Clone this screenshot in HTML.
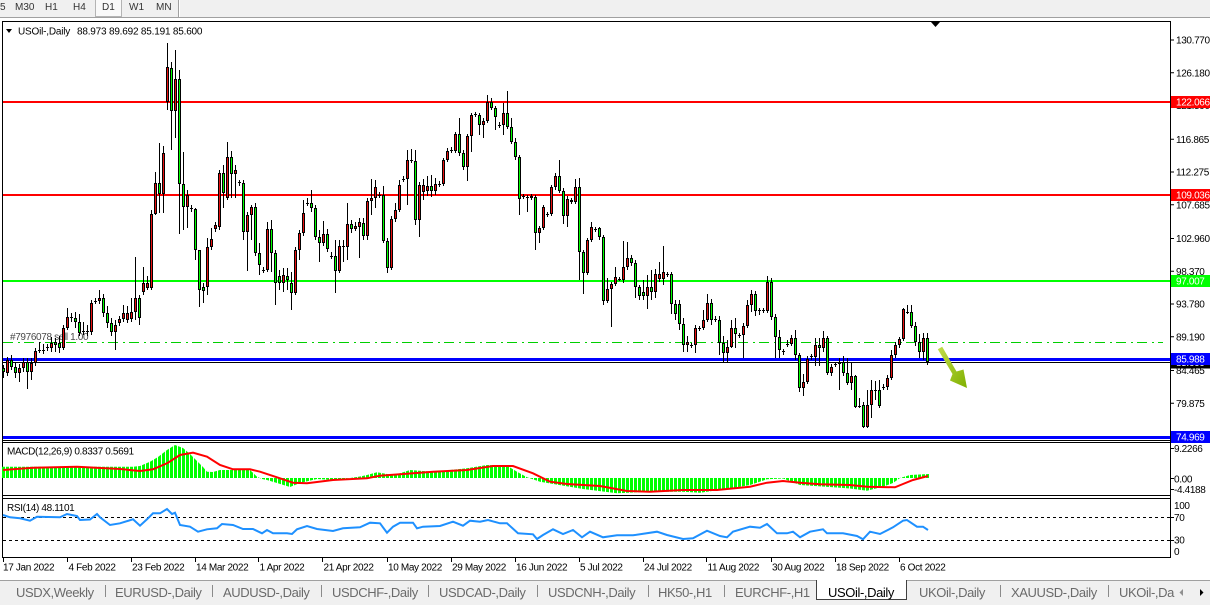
<!DOCTYPE html>
<html><head><meta charset="utf-8"><style>
html,body{margin:0;padding:0;background:#f0f0f0;}
svg{display:block;}
.t{font-family:"Liberation Sans",sans-serif;font-size:10px;letter-spacing:-0.35px;fill:#000;}
.tb{font-family:"Liberation Sans",sans-serif;font-size:10px;fill:#333;}
.tab{font-family:"Liberation Sans",sans-serif;font-size:13px;letter-spacing:-0.4px;fill:#6a6a6a;}
.w{fill:#fff;}
</style></head><body>
<svg width="1210" height="605" viewBox="0 0 1210 605" xmlns="http://www.w3.org/2000/svg">
<defs>
<pattern id="hb" x="2" y="0" width="4" height="605" patternUnits="userSpaceOnUse"><rect width="3" height="605" fill="#00ff00"/></pattern>
<linearGradient id="ag" x1="0" y1="0" x2="1" y2="1"><stop offset="0" stop-color="#c2dc4a"/><stop offset="1" stop-color="#7fb000"/></linearGradient>
</defs>
<rect width="1210" height="605" fill="#f0f0f0"/>
<!-- toolbar -->
<line x1="0" y1="17.5" x2="1210" y2="17.5" stroke="#a0a0a0"/>
<rect x="95.5" y="-0.5" width="26" height="17" fill="#f9f9f9" stroke="#b4b4b4"/>
<line x1="178.5" y1="0" x2="178.5" y2="17" stroke="#a0a0a0"/>
<line x1="179.5" y1="0" x2="179.5" y2="17" stroke="#fff"/>
<text class="tb" x="0" y="10">5</text>
<text class="tb" x="15" y="10">M30</text>
<text class="tb" x="45" y="10">H1</text>
<text class="tb" x="73" y="10">H4</text>
<text class="tb" x="102" y="10">D1</text>
<text class="tb" x="129" y="10">W1</text>
<text class="tb" x="156" y="10">MN</text>
<!-- chart window -->
<rect x="0" y="18" width="1210" height="562" fill="#fff"/>
<path d="M2.5 558V21.5H1170.5V558" fill="none" stroke="#000"/>
<line x1="2.5" y1="440.5" x2="1170.5" y2="440.5" stroke="#000"/>
<line x1="2.5" y1="442.5" x2="1170.5" y2="442.5" stroke="#000"/>
<line x1="2.5" y1="495.5" x2="1170.5" y2="495.5" stroke="#000"/>
<line x1="2.5" y1="498.5" x2="1170.5" y2="498.5" stroke="#000"/>
<line x1="2.5" y1="557.5" x2="1170.5" y2="557.5" stroke="#000"/>
<!-- title -->
<polygon points="6,29 12,29 9,33" fill="#000"/>
<text class="t" x="18" y="34.5" style="letter-spacing:-0.2px">USOil-,Daily</text>
<text class="t" x="77" y="34.5" style="letter-spacing:-0.2px">88.973 89.692 85.191 85.600</text>
<polygon points="931,22 940,22 935.5,27" fill="#000"/>
<!-- horizontal levels -->
<line x1="3" y1="102" x2="1170" y2="102" stroke="#ff0000" stroke-width="2"/>
<line x1="3" y1="195" x2="1170" y2="195" stroke="#ff0000" stroke-width="2"/>
<line x1="3" y1="281" x2="1170" y2="281" stroke="#00ff00" stroke-width="2"/>
<line x1="3" y1="342.5" x2="1163" y2="342.5" stroke="#00d000" stroke-width="1" stroke-dasharray="10,5,2,4"/>
<text class="t" x="10" y="340" style="fill:#4a4a4a">#7976078 sell 1.00</text>
<line x1="3" y1="359.5" x2="1170" y2="359.5" stroke="#0000ff" stroke-width="3"/>
<line x1="3" y1="362.5" x2="1170" y2="362.5" stroke="#000" stroke-width="1"/>
<line x1="3" y1="437.5" x2="1170" y2="437.5" stroke="#0000ff" stroke-width="3"/>
<!-- candles: wicks -->
<path fill="none" stroke="#000" stroke-width="1" d="M3.5 365V378M7.5 357V376M11.5 355V370M15.5 362V378M19.5 364V382M23.5 358V372M27.5 358V389M31.5 358V380M35.5 348V366M39.5 342V353M43.5 344V354M47.5 344V351M51.5 337V352M55.5 338V352M59.5 336V353M63.5 325V350M67.5 308V330M71.5 313V322M75.5 312V328M79.5 314V336M83.5 322V335M87.5 325V336M91.5 300V335M95.5 298V304M99.5 290V304M103.5 294V317M107.5 306V328M111.5 318V336M115.5 320V350M119.5 316V326M123.5 305V322M127.5 306V323M131.5 298V322M135.5 257V320M139.5 295V325M143.5 267V295M147.5 276V290M151.5 210V290M155.5 172V215M159.5 143V213M163.5 146V213M167.5 43V110M171.5 62V150M175.5 50V138M179.5 70V234M183.5 152V230M187.5 190V228M191.5 205V212M195.5 208V260M199.5 250V307M203.5 283V303M207.5 238V295M211.5 228V250M215.5 222V232M219.5 170V230M223.5 165V208M227.5 142V200M231.5 151V198M235.5 165V198M239.5 180V186M243.5 180V240M247.5 212V271M251.5 205V240M255.5 203V256M259.5 243V275M263.5 267V273M267.5 222V272M271.5 220V272M275.5 250V305M279.5 270V290M283.5 268V292M287.5 268V290M291.5 272V310M295.5 247V295M299.5 230V260M303.5 200V236M307.5 198V206M311.5 190V212M315.5 205V240M319.5 230V262M323.5 221V246M327.5 229V252M331.5 252V259M335.5 240V293M339.5 240V273M343.5 240V262M347.5 203V260M351.5 220V233M355.5 222V231M359.5 218V258M363.5 218V240M367.5 198V240M371.5 179V215M375.5 180V208M379.5 192V198M383.5 186V243M387.5 238V273M391.5 216V270M395.5 203V222M399.5 180V212M403.5 176V182M407.5 150V205M411.5 149V163M415.5 150V225M419.5 182V237M423.5 179V200M427.5 176V196M431.5 175V197M435.5 178V195M439.5 181V187M443.5 158V186M447.5 148V162M451.5 147V153M455.5 132V153M459.5 118V156M463.5 150V170M467.5 134V181M471.5 113V152M475.5 112V117M479.5 113V135M483.5 118V138M487.5 95V123M491.5 98V110M495.5 106V130M499.5 122V128M503.5 103V135M507.5 91V129M511.5 118V144M515.5 138V160M519.5 155V215M523.5 194V199M527.5 195V212M531.5 194V200M535.5 195V250M539.5 226V243M543.5 205V230M547.5 212V217M551.5 185V216M555.5 173V190M559.5 160V193M563.5 188V224M567.5 196V227M571.5 198V204M575.5 179V204M579.5 178V280M583.5 250V294M587.5 238V275M591.5 222V242M595.5 227V232M599.5 227V240M603.5 235V305M607.5 278V303M611.5 282V327M615.5 267V286M619.5 277V281M623.5 241V283M627.5 242V270M631.5 255V266M635.5 260V298M639.5 285V300M643.5 280V300M647.5 275V309M651.5 270V300M655.5 269V298M659.5 262V282M663.5 246V285M667.5 272V277M671.5 272V314M675.5 300V320M679.5 300V330M683.5 318V352M687.5 336V352M691.5 343V348M695.5 325V353M699.5 326V331M703.5 310V330M707.5 294V322M711.5 299V325M715.5 316V322M719.5 316V355M723.5 336V362M727.5 340V362M731.5 320V348M735.5 318V348M739.5 333V338M743.5 323V358M747.5 300V328M751.5 290V312M755.5 291V316M759.5 308V315M763.5 308V313M767.5 276V313M771.5 278V320M775.5 314V358M779.5 330V358M783.5 349V355M787.5 340V347M791.5 335V346M795.5 330V360M799.5 353V392M803.5 374V396M807.5 356V384M811.5 354V360M815.5 338V366M819.5 338V366M823.5 331V352M827.5 336V375M831.5 364V376M835.5 362V367M839.5 358V390M843.5 356V376M847.5 358V385M851.5 362V390M855.5 375V408M859.5 398V408M863.5 402V428M867.5 390V428M871.5 380V418M875.5 381V400M879.5 380V408M883.5 384V390M887.5 375V390M891.5 350V380M895.5 342V358M899.5 337V348M903.5 308V341M907.5 305V314M911.5 305V328M915.5 322V346M919.5 334V358M923.5 333V360M927.5 333V365"/>
<!-- red (bull) bodies -->
<path fill="#e81010" stroke="#000" stroke-width="1" d="M6.5 360.5h2v12h-2zM18.5 368.5h2v4h-2zM22.5 362.5h2v5h-2zM30.5 363.5h2v8h-2zM34.5 351.5h2v11h-2zM50.5 343.5h2v4h-2zM62.5 328.5h2v19h-2zM66.5 317.5h2v10h-2zM90.5 303.5h2v28h-2zM98.5 298.5h2v2h-2zM114.5 325.5h2v6h-2zM118.5 319.5h2v3h-2zM122.5 313.5h2v5h-2zM126.5 313.5h2v6h-2zM130.5 312.5h2v6h-2zM134.5 298.5h2v13h-2zM142.5 283.5h2v8h-2zM146.5 283.5h2v4h-2zM150.5 214.5h2v73h-2zM154.5 183.5h2v30h-2zM162.5 153.5h2v40h-2zM166.5 67.5h2v34h-2zM174.5 79.5h2v31h-2zM186.5 195.5h2v11h-2zM206.5 247.5h2v39h-2zM210.5 239.5h2v7h-2zM214.5 225.5h2v3h-2zM218.5 173.5h2v53h-2zM226.5 157.5h2v40h-2zM234.5 170.5h2v3h-2zM246.5 215.5h2v16h-2zM250.5 207.5h2v7h-2zM266.5 229.5h2v40h-2zM282.5 275.5h2v7h-2zM294.5 250.5h2v42h-2zM298.5 233.5h2v16h-2zM302.5 213.5h2v19h-2zM322.5 234.5h2v8h-2zM338.5 246.5h2v24h-2zM346.5 224.5h2v22h-2zM354.5 226.5h2v2h-2zM358.5 222.5h2v4h-2zM366.5 201.5h2v34h-2zM370.5 198.5h2v2h-2zM374.5 187.5h2v10h-2zM390.5 219.5h2v48h-2zM394.5 210.5h2v8h-2zM398.5 185.5h2v24h-2zM406.5 160.5h2v18h-2zM418.5 185.5h2v34h-2zM422.5 185.5h2v6h-2zM426.5 186.5h2v4h-2zM434.5 184.5h2v6h-2zM442.5 160.5h2v23h-2zM446.5 151.5h2v8h-2zM454.5 134.5h2v16h-2zM466.5 136.5h2v30h-2zM470.5 115.5h2v20h-2zM482.5 121.5h2v3h-2zM486.5 102.5h2v18h-2zM502.5 113.5h2v11h-2zM530.5 196.5h2v1h-2zM538.5 228.5h2v4h-2zM542.5 207.5h2v20h-2zM550.5 187.5h2v26h-2zM554.5 176.5h2v10h-2zM566.5 199.5h2v16h-2zM570.5 200.5h2v1h-2zM574.5 187.5h2v14h-2zM586.5 240.5h2v32h-2zM590.5 227.5h2v12h-2zM606.5 289.5h2v11h-2zM610.5 284.5h2v4h-2zM614.5 277.5h2v6h-2zM622.5 267.5h2v12h-2zM626.5 258.5h2v8h-2zM646.5 287.5h2v8h-2zM654.5 274.5h2v17h-2zM658.5 274.5h2v4h-2zM662.5 272.5h2v6h-2zM686.5 342.5h2v2h-2zM694.5 328.5h2v16h-2zM702.5 320.5h2v7h-2zM706.5 303.5h2v16h-2zM726.5 347.5h2v5h-2zM730.5 328.5h2v18h-2zM742.5 326.5h2v8h-2zM746.5 305.5h2v20h-2zM750.5 294.5h2v10h-2zM766.5 282.5h2v28h-2zM790.5 338.5h2v5h-2zM802.5 382.5h2v5h-2zM806.5 359.5h2v22h-2zM814.5 345.5h2v11h-2zM822.5 338.5h2v9h-2zM830.5 367.5h2v5h-2zM838.5 362.5h2v1h-2zM850.5 376.5h2v6h-2zM866.5 405.5h2v21h-2zM870.5 390.5h2v14h-2zM886.5 378.5h2v8h-2zM890.5 355.5h2v22h-2zM894.5 345.5h2v9h-2zM898.5 339.5h2v5h-2zM902.5 309.5h2v29h-2zM922.5 338.5h2v13h-2z"/>
<!-- green (bear) bodies -->
<path fill="#00ff00" stroke="#000" stroke-width="1" d="M2.5 368.5h2v3h-2zM10.5 360.5h2v6h-2zM14.5 367.5h2v5h-2zM26.5 362.5h2v9h-2zM54.5 342.5h2v2h-2zM58.5 343.5h2v4h-2zM74.5 318.5h2v3h-2zM78.5 322.5h2v10h-2zM102.5 298.5h2v14h-2zM106.5 313.5h2v9h-2zM110.5 323.5h2v8h-2zM138.5 298.5h2v19h-2zM158.5 183.5h2v10h-2zM170.5 68.5h2v42h-2zM178.5 79.5h2v104h-2zM182.5 184.5h2v22h-2zM194.5 209.5h2v40h-2zM198.5 250.5h2v39h-2zM202.5 287.5h2v3h-2zM222.5 173.5h2v19h-2zM230.5 157.5h2v16h-2zM242.5 183.5h2v48h-2zM254.5 207.5h2v45h-2zM258.5 253.5h2v11h-2zM270.5 229.5h2v23h-2zM274.5 253.5h2v29h-2zM278.5 276.5h2v6h-2zM286.5 276.5h2v3h-2zM290.5 283.5h2v9h-2zM310.5 203.5h2v4h-2zM314.5 208.5h2v28h-2zM318.5 237.5h2v5h-2zM326.5 234.5h2v14h-2zM334.5 256.5h2v14h-2zM350.5 224.5h2v4h-2zM362.5 223.5h2v12h-2zM382.5 195.5h2v45h-2zM386.5 241.5h2v26h-2zM414.5 161.5h2v58h-2zM430.5 186.5h2v4h-2zM458.5 134.5h2v18h-2zM462.5 153.5h2v13h-2zM478.5 115.5h2v9h-2zM490.5 102.5h2v5h-2zM494.5 108.5h2v8h-2zM506.5 113.5h2v13h-2zM510.5 127.5h2v14h-2zM514.5 142.5h2v14h-2zM518.5 157.5h2v41h-2zM534.5 197.5h2v35h-2zM558.5 176.5h2v14h-2zM562.5 191.5h2v24h-2zM578.5 187.5h2v64h-2zM582.5 252.5h2v20h-2zM598.5 228.5h2v8h-2zM602.5 237.5h2v63h-2zM630.5 258.5h2v4h-2zM634.5 263.5h2v23h-2zM638.5 287.5h2v8h-2zM642.5 292.5h2v3h-2zM650.5 287.5h2v4h-2zM670.5 274.5h2v29h-2zM674.5 304.5h2v9h-2zM678.5 304.5h2v19h-2zM682.5 324.5h2v20h-2zM710.5 303.5h2v16h-2zM718.5 320.5h2v22h-2zM722.5 343.5h2v9h-2zM734.5 328.5h2v5h-2zM754.5 294.5h2v16h-2zM770.5 282.5h2v34h-2zM774.5 317.5h2v19h-2zM778.5 337.5h2v12h-2zM794.5 338.5h2v16h-2zM798.5 355.5h2v32h-2zM818.5 345.5h2v2h-2zM826.5 338.5h2v34h-2zM842.5 362.5h2v10h-2zM846.5 373.5h2v9h-2zM854.5 376.5h2v30h-2zM862.5 405.5h2v21h-2zM878.5 390.5h2v15h-2zM910.5 312.5h2v13h-2zM914.5 326.5h2v15h-2zM918.5 342.5h2v9h-2zM926.5 338.5h2v23h-2z"/>
<!-- dojis -->
<path fill="#000" d="M38 350h3v1h-3zM42 350h3v1h-3zM46 347h3v1h-3zM70 317h3v1h-3zM82 331h3v1h-3zM86 331h3v1h-3zM94 301h3v1h-3zM190 208h3v1h-3zM238 182h3v1h-3zM262 270h3v1h-3zM306 203h3v1h-3zM330 256h3v1h-3zM342 246h3v1h-3zM378 195h3v1h-3zM402 179h3v1h-3zM410 160h3v1h-3zM438 184h3v1h-3zM450 150h3v1h-3zM474 114h3v1h-3zM498 125h3v1h-3zM522 196h3v1h-3zM526 197h3v1h-3zM546 214h3v1h-3zM594 229h3v1h-3zM618 279h3v1h-3zM666 274h3v1h-3zM690 345h3v1h-3zM698 328h3v1h-3zM714 319h3v1h-3zM738 335h3v1h-3zM758 310h3v1h-3zM762 310h3v1h-3zM782 351h3v1h-3zM786 344h3v1h-3zM810 356h3v1h-3zM834 364h3v1h-3zM858 406h3v1h-3zM874 390h3v1h-3zM882 387h3v1h-3zM906 312h3v1h-3z"/>
<!-- arrow -->
<polygon points="937.8,349.3 942.2,346.7 956.5,371.5 963.5,369.5 967,388 950,380.5 952.5,374" fill="url(#ag)"/>
<!-- right axis price labels -->
<g class="t">
<path d="M1171 40h3M1171 72.8h3M1171 105.5h3M1171 139.3h3M1171 172h3M1171 204.8h3M1171 238.5h3M1171 271.3h3M1171 304h3M1171 336.8h3M1171 370.5h3M1171 403.3h3" stroke="#000"/>
<text x="1176" y="43.5">130.770</text>
<text x="1176" y="76.3">126.180</text>
<text x="1176" y="109">121.590</text>
<text x="1176" y="142.8">116.865</text>
<text x="1176" y="175.5">112.275</text>
<text x="1176" y="208.3">107.685</text>
<text x="1176" y="242">102.960</text>
<text x="1176" y="274.8">98.370</text>
<text x="1176" y="307.5">93.780</text>
<text x="1176" y="340.3">89.190</text>
<text x="1176" y="374">84.465</text>
<text x="1176" y="406.8">79.875</text>
</g>
<rect x="1171" y="96" width="39" height="12" fill="#ff0000"/>
<text class="t w" x="1176" y="105.5">122.066</text>
<rect x="1171" y="189" width="39" height="12" fill="#ff0000"/>
<text class="t w" x="1176" y="198.5">109.036</text>
<rect x="1171" y="275" width="39" height="12" fill="#00ff00"/>
<text class="t w" x="1176" y="284.5">97.007</text>
<rect x="1171" y="356.5" width="39" height="12" fill="#000"/>
<text class="t w" x="1176" y="366">85.600</text>
<rect x="1171" y="353" width="39" height="12" fill="#0000ff"/>
<text class="t w" x="1176" y="362.5">85.988</text>
<rect x="1171" y="431" width="39" height="12" fill="#0000ff"/>
<text class="t w" x="1176" y="440.5">74.969</text>
<!-- MACD -->
<polygon fill="url(#hb)" points="2,478 2,466.7 133,466.7 140,466 150,461.7 158,457 167,450 175,445 183,448 190,454 197,461 203,467 207,471.7 213,472 220,470 250,470 257,476.7 262,479 267,480 277,483 290,487 300,483 317,479 333,480 350,478 360,476.5 367,475 377,472.3 393,475 400,473.3 410,470 433,471.7 467,468.3 487,465 507,465.7 517,471.7 527,477.3 540,481.7 583,489 617,493.3 650,491.7 683,491.7 700,492.7 733,488 750,485 767,479.3 783,478.5 800,485 833,487.3 850,488.5 867,490.7 883,486.7 893,483 900,478 910,475 929,474 929,478"/>
<polyline fill="none" stroke="#ff0000" stroke-width="2" points="3,470 33,467.7 77,466.7 120,469 140,471 153,469.3 167,463.3 180,455 193,452.7 207,456.7 220,465 233,469.3 250,469.3 260,471.7 277,477.3 293,482.7 307,483.3 333,480 367,478.3 380,475.7 400,474.3 433,471.7 467,470 493,466 513,466 533,473.3 550,481.7 567,484 600,486 627,491 650,491.7 683,490 717,490 750,486.7 767,482.7 783,481 800,482.7 820,484.3 850,485 867,486.7 895,487.3 903,484 913,480 928,476"/>
<text class="t" x="7" y="454.5">MACD(12,26,9) 0.8337 0.5691</text>
<text class="t" x="1174" y="452">9.2266</text>
<text class="t" x="1174" y="482.5">0.00</text>
<text class="t" x="1174" y="493">-4.4188</text>
<path d="M1171 448.5h3M1171 478.5h3M1171 489.5h3" stroke="#000"/>
<!-- RSI -->
<line x1="3" y1="517.5" x2="1170" y2="517.5" stroke="#000" stroke-dasharray="3,3"/>
<line x1="3" y1="540.5" x2="1170" y2="540.5" stroke="#000" stroke-dasharray="3,3"/>
<polyline fill="none" stroke="#1e90ff" stroke-width="2" points="3,515 10,517.3 20,518.3 30,520.7 37,516.7 60,517.3 67,514 77,516 80,520 90,519.5 97,514 100,517.3 110,525 120,523.3 133,519.3 140,525.7 147,519.3 153,513.3 160,513.3 167,509 172,514 175,512.7 180,525 190,526.7 198,531.7 207,529.3 217,528.3 222,524 233,525 243,529 253,529 262,533.3 267,530 273,533.3 287,533.3 292,534 297,529.3 307,526 317,529 333,531 343,528.3 360,527.3 370,522.7 380,523.3 387,532.7 393,526.7 400,522.7 413,522.7 417,528.3 423,526.7 440,526 453,521.7 463,525.7 470,520.7 480,521.7 488,520 500,523.3 507,523.3 518,533.3 533,534.3 537,539 543,535 553,529.3 563,534 573,530 582,537.3 590,531.7 603,537.3 617,535.3 633,535.3 657,531.7 667,535 683,539 693,538.3 707,530.7 720,536 727,537.3 733,531.7 750,526.7 760,527.7 767,524 777,533.3 787,533.3 793,531.7 800,537.3 810,531.7 823,529.3 827,533.3 843,533.3 857,536 863,539.3 870,531.7 880,534 893,527.3 903,520.7 907,520 917,526.7 923,526.7 928,530"/>
<text class="t" x="7" y="511">RSI(14) 48.1101</text>
<text class="t" x="1174" y="509">100</text>
<text class="t" x="1174" y="521">70</text>
<text class="t" x="1174" y="543.5">30</text>
<text class="t" x="1174" y="555">0</text>
<path d="M1171 517.5h3M1171 540.5h3" stroke="#000"/>
<!-- x axis -->
<path d="M3.5 558v4M67.5 558v4M131.5 558v4M195.5 558v4M258.5 558v4M322.5 558v4M387.5 558v4M451.5 558v4M515.5 558v4M579.5 558v4M643.5 558v4M706.5 558v4M771.5 558v4M835.5 558v4M899.5 558v4" stroke="#000"/>
<g class="t">
<text x="3" y="570.5">17 Jan 2022</text>
<text x="68.5" y="570.5">4 Feb 2022</text>
<text x="132" y="570.5">23 Feb 2022</text>
<text x="196" y="570.5">14 Mar 2022</text>
<text x="259.5" y="570.5">1 Apr 2022</text>
<text x="323.5" y="570.5">21 Apr 2022</text>
<text x="388" y="570.5">10 May 2022</text>
<text x="452" y="570.5">29 May 2022</text>
<text x="516" y="570.5">16 Jun 2022</text>
<text x="580" y="570.5">5 Jul 2022</text>
<text x="644" y="570.5">24 Jul 2022</text>
<text x="707.5" y="570.5">11 Aug 2022</text>
<text x="772" y="570.5">30 Aug 2022</text>
<text x="836" y="570.5">18 Sep 2022</text>
<text x="900" y="570.5">6 Oct 2022</text>
</g>
<!-- tab bar -->
<rect x="0" y="580" width="1210" height="25" fill="#f0f0f0"/>
<line x1="0" y1="580.5" x2="1210" y2="580.5" stroke="#a0a0a0"/>
<rect x="816.5" y="580.5" width="90" height="19" fill="#fff" stroke="#404040"/>
<line x1="817" y1="580.5" x2="906" y2="580.5" stroke="#fff"/>
<path d="M105.5 585v12M212.5 585v12M321.5 585v12M428.5 585v12M537.5 585v12M648.5 585v12M724.5 585v12M1000.5 585v12M1108.5 585v12" stroke="#8a8a8a"/>
<text class="tab" x="16" y="597">USDX,Weekly</text>
<text class="tab" x="115" y="597">EURUSD-,Daily</text>
<text class="tab" x="223" y="597">AUDUSD-,Daily</text>
<text class="tab" x="332" y="597">USDCHF-,Daily</text>
<text class="tab" x="439" y="597">USDCAD-,Daily</text>
<text class="tab" x="548" y="597">USDCNH-,Daily</text>
<text class="tab" x="658" y="597">HK50-,H1</text>
<text class="tab" x="735" y="597">EURCHF-,H1</text>
<text class="tab" x="828" y="597" style="fill:#000">USOil-,Daily</text>
<text class="tab" x="919" y="597">UKOil-,Daily</text>
<text class="tab" x="1011" y="597">XAUUSD-,Daily</text>
<text class="tab" x="1119" y="597">UKOil-,Da</text>
<polygon points="1183,589 1183,596 1179.5,592.5" fill="#909090"/>
<polygon points="1200,589 1200,596 1203.5,592.5" fill="#000"/>
</svg>
</body></html>
